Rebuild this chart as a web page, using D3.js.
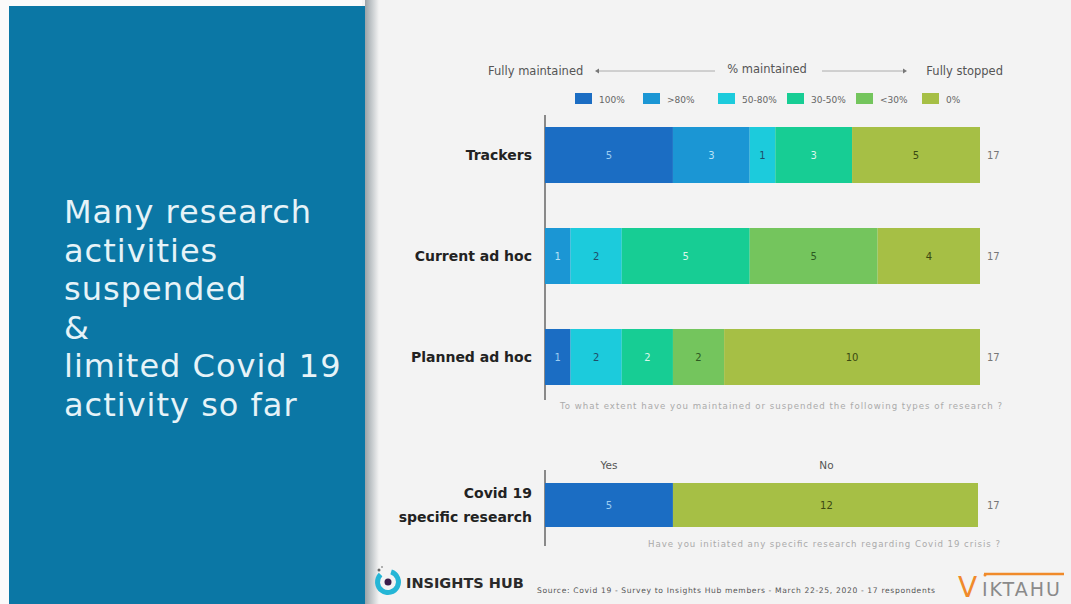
<!DOCTYPE html>
<html><head><meta charset="utf-8">
<script src="https://cdn.jsdelivr.net/npm/d3@7"></script>
<style>
html,body{margin:0;padding:0;background:#fff;}
svg{display:block;}
</style></head>
<body>
<svg id="c" width="1071" height="604"></svg>
<script>
// ---- data ----
const titleLines = ["Many research","activities","suspended","&","limited Covid 19","activity so far"];
const categories = ["Trackers","Current ad hoc","Planned ad hoc"];
const levels = ["100%",">80%","50-80%","30-50%","<30%","0%"];
const trackersValues = [5,3,1,3,0,5];
const currentAdHocValues = [0,1,2,5,5,4];
const plannedAdHocValues = [1,0,2,2,2,10];
const totals = [17,17,17];
const covidCategory = ["Covid 19","specific research"];
const covidAnswers = ["Yes","No"];
const covidValues = [5,12];
const covidTotal = 17;
const question1 = "To what extent have you maintained or suspended the following types of research ?";
const question2 = "Have you initiated any specific research regarding Covid 19 crisis ?";
const sourceText = "Source: Covid 19 - Survey to Insights Hub members - March 22-25, 2020 - 17 respondents";

const levelColors = ["#1b6dc3","#1b96d4","#1ccbdc","#17cd94","#74c55d","#a6bf45"];
const labelColors = ["#9ccdf2","#b9e3f7","#1f4e6a","#d9f7ea","#2d5a22","#3b4a12"];
const seriesValues = [trackersValues, currentAdHocValues, plannedAdHocValues];

const svg = d3.select("#c");
const font = "'DejaVu Sans', 'Noto Sans', sans-serif";

// backgrounds
svg.append("rect").attr("x",0).attr("y",0).attr("width",1071).attr("height",604).attr("fill","#f3f3f3");
svg.append("rect").attr("x",0).attr("y",0).attr("width",9).attr("height",604).attr("fill","#fafafa");
const grad = svg.append("defs").append("linearGradient").attr("id","sh").attr("x1","0").attr("x2","1");
grad.append("stop").attr("offset","0").attr("stop-color","#9aa3a8");
grad.append("stop").attr("offset","1").attr("stop-color","#f3f3f3");
svg.append("rect").attr("x",365).attr("y",0).attr("width",14).attr("height",604).attr("fill","url(#sh)");
svg.append("rect").attr("x",9).attr("y",6).attr("width",356).attr("height",598).attr("fill","#0b77a5");
svg.append("rect").attr("x",0).attr("y",0).attr("width",362).attr("height",6).attr("fill","#fafafa");

// title
svg.append("g").selectAll("text").data(titleLines).join("text")
  .attr("x",64).attr("y",(d,i)=>223+i*38.6)
  .attr("font-family",font).attr("font-size",32).attr("letter-spacing",1).attr("fill","#e6f3f8")
  .text(d=>d);

// scales
const x = d3.scaleLinear().domain([0,17]).range([545,980]);
const y = d3.scaleBand().domain(categories).range([127,385]).paddingInner(0.4455).paddingOuter(0);
const color = d3.scaleOrdinal().domain(levels).range(levelColors);
const lcolor = d3.scaleOrdinal().domain(levels).range(labelColors);

// header
const hy = 71;
svg.append("text").attr("x",488).attr("y",hy+4).attr("font-family",font).attr("font-size",11.5).attr("fill","#555").text("Fully maintained");
svg.append("text").attr("x",767).attr("y",hy+2).attr("text-anchor","middle").attr("font-family",font).attr("font-size",11.5).attr("fill","#555").text("% maintained");
svg.append("text").attr("x",1003).attr("y",hy+4).attr("text-anchor","end").attr("font-family",font).attr("font-size",11.5).attr("fill","#555").text("Fully stopped");
svg.append("line").attr("x1",597).attr("x2",715).attr("y1",hy).attr("y2",hy).attr("stroke","#999").attr("stroke-width",0.8);
svg.append("line").attr("x1",822).attr("x2",905).attr("y1",hy).attr("y2",hy).attr("stroke","#999").attr("stroke-width",0.8);
svg.append("path").attr("d",`M595,${hy} l4,-2.5 v5 z`).attr("fill","#777");
svg.append("path").attr("d",`M907,${hy} l-4,-2.5 v5 z`).attr("fill","#777");

// legend
const legendX = [575,643,718,787,856,922];
const lg = svg.append("g").selectAll("g").data(levels).join("g").attr("transform",(d,i)=>`translate(${legendX[i]},93)`);
lg.append("rect").attr("width",17).attr("height",11).attr("fill",d=>color(d));
lg.append("text").attr("x",24).attr("y",9.5).attr("font-family",font).attr("font-size",9).attr("fill","#666").text(d=>d);

// axis lines
svg.append("line").attr("x1",545).attr("x2",545).attr("y1",115).attr("y2",400).attr("stroke","#666").attr("stroke-width",1.5);
svg.append("line").attr("x1",545).attr("x2",545).attr("y1",470).attr("y2",546).attr("stroke","#666").attr("stroke-width",1.5);

// stacked bars
const rows = categories.map((c,i)=>{
  let acc=0;
  return {cat:c, total:totals[i], segs: levels.map((l,j)=>{const s={level:l,v:seriesValues[i][j],x0:acc}; acc+=seriesValues[i][j]; return s;}).filter(s=>s.v>0)};
});
const rg = svg.append("g").selectAll("g").data(rows).join("g");
rg.selectAll("rect").data(d=>d.segs).join("rect")
  .attr("x",s=>x(s.x0)).attr("width",s=>x(s.x0+s.v)-x(s.x0))
  .attr("y",function(){return y(d3.select(this.parentNode).datum().cat);}).attr("height",y.bandwidth())
  .attr("fill",s=>color(s.level));
rg.selectAll("text.v").data(d=>d.segs.map(s=>({...s,cat:d.cat}))).join("text").attr("class","v")
  .attr("x",s=>(x(s.x0)+x(s.x0+s.v))/2).attr("y",s=>y(s.cat)+y.bandwidth()/2+4)
  .attr("text-anchor","middle").attr("font-family",font).attr("font-size",10).attr("fill",s=>lcolor(s.level)).text(s=>s.v);
rg.append("text").attr("x",532).attr("y",d=>y(d.cat)+y.bandwidth()/2+5).attr("text-anchor","end")
  .attr("font-family",font).attr("font-weight","bold").attr("font-size",14).attr("fill","#222").text(d=>d.cat);
rg.append("text").attr("x",987).attr("y",d=>y(d.cat)+y.bandwidth()/2+4)
  .attr("font-family",font).attr("font-size",10).attr("fill","#777").text(d=>d.total);

svg.append("text").attr("x",560).attr("y",409).attr("font-family",font).attr("font-size",8.6)
  .attr("textLength",442).attr("lengthAdjust","spacing").attr("fill","#aaa").text(question1);

// covid bar
const cy0 = 483, ch = 44;
let acc = 0;
const covSegs = covidValues.map((v,i)=>{const s={ans:covidAnswers[i],v,x0:acc}; acc+=v; return s;});
const covColor = d3.scaleOrdinal().domain(covidAnswers).range([levelColors[0], levelColors[5]]);
const covLabel = d3.scaleOrdinal().domain(covidAnswers).range([labelColors[0], labelColors[5]]);
const cg = svg.append("g");
cg.selectAll("rect").data(covSegs).join("rect")
  .attr("x",s=>x(s.x0)).attr("width",s=>x(s.x0+s.v)-x(s.x0)-(s.ans==="No"?2:0)).attr("y",cy0).attr("height",ch).attr("fill",s=>covColor(s.ans));
cg.selectAll("text.v").data(covSegs).join("text").attr("class","v")
  .attr("x",s=>(x(s.x0)+x(s.x0+s.v))/2).attr("y",cy0+ch/2+4).attr("text-anchor","middle")
  .attr("font-family",font).attr("font-size",10).attr("fill",s=>covLabel(s.ans)).text(s=>s.v);
cg.selectAll("text.a").data(covSegs).join("text").attr("class","a")
  .attr("x",s=>(x(s.x0)+x(s.x0+s.v))/2).attr("y",469).attr("text-anchor","middle")
  .attr("font-family",font).attr("font-size",10.5).attr("fill","#555").text(s=>s.ans);
cg.selectAll("text.c").data(covidCategory).join("text").attr("class","c")
  .attr("x",532).attr("y",(d,i)=>498+i*24).attr("text-anchor","end")
  .attr("font-family",font).attr("font-weight","bold").attr("font-size",14).attr("fill","#222").text(d=>d);
cg.append("text").attr("x",987).attr("y",cy0+ch/2+4).attr("font-family",font).attr("font-size",10).attr("fill","#777").text(covidTotal);
svg.append("text").attr("x",648).attr("y",547).attr("font-family",font).attr("font-size",8.6)
  .attr("textLength",352).attr("lengthAdjust","spacing").attr("fill","#aaa").text(question2);

// footer: Insights Hub logo
const lo = svg.append("g").attr("transform","translate(388,582)");
lo.append("path").attr("d",d3.arc()({innerRadius:8,outerRadius:13,startAngle:0.3,endAngle:Math.PI*1.75})).attr("fill","#25b6d6");
lo.append("circle").attr("r",3.5).attr("fill","#3a1d4a");
lo.append("circle").attr("cx",-9).attr("cy",-12).attr("r",1.5).attr("fill","#666");
lo.append("circle").attr("cx",-6).attr("cy",-15).attr("r",1).attr("fill","#999");
svg.append("text").attr("x",406).attr("y",588).attr("font-family",font).attr("font-weight","bold").attr("font-size",14.5).attr("fill","#2a2a2a").text("INSIGHTS HUB");
svg.append("text").attr("x",537).attr("y",593).attr("font-family",font).attr("font-size",7.6)
  .attr("textLength",398).attr("lengthAdjust","spacing").attr("fill","#555").text(sourceText);

// VIKTAHU logo
svg.append("text").attr("x",958).attr("y",597).attr("font-family",font).attr("font-size",28).attr("fill","#f08a2a").text("V");
svg.append("text").attr("x",982).attr("y",596).attr("font-family",font).attr("font-size",19)
  .attr("textLength",78).attr("lengthAdjust","spacing").attr("fill","#8a8a8a").text("IKTAHU");
svg.append("line").attr("x1",984).attr("x2",1064).attr("y1",574).attr("y2",574).attr("stroke","#f08a2a").attr("stroke-width",2.5);
svg.append("circle").attr("cx",985).attr("cy",575).attr("r",1.5).attr("fill","#f08a2a");
</script>
</body></html>
